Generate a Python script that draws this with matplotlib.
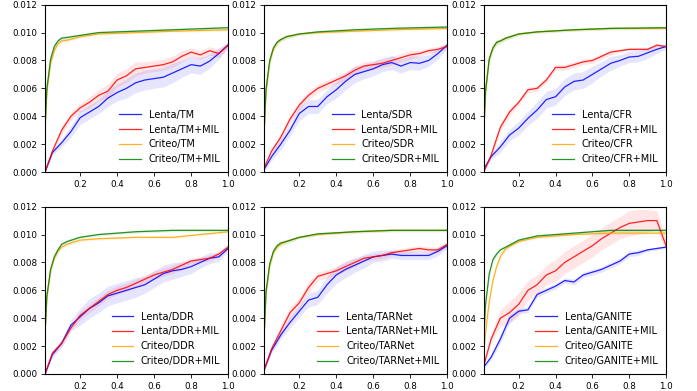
import matplotlib
matplotlib.use("Agg")
import matplotlib.pyplot as plt
import numpy as np

# x grids (fraction of population)
xl = [0.01, 0.05, 0.1, 0.15, 0.2, 0.25, 0.3, 0.35, 0.4, 0.45, 0.5,
      0.55, 0.6, 0.65, 0.7, 0.75, 0.8, 0.85, 0.9, 0.95, 1.0]
xc = [0.01, 0.02, 0.04, 0.06, 0.08, 0.1, 0.13, 0.2, 0.3, 0.5, 0.7, 1.0]

models = ["TM", "SDR", "CFR", "DDR", "TARNet", "GANITE"]

# Lenta curves (x1e-3)
lenta = {
    "TM": [0.0, 1.4, 2.1, 2.9, 3.9, 4.3, 4.7, 5.3, 5.7, 6.0, 6.4,
           6.6, 6.7, 6.8, 7.1, 7.4, 7.7, 7.6, 7.95, 8.5, 9.1],
    "SDR": [0.2, 1.1, 2.0, 3.0, 4.2, 4.7, 4.7, 5.4, 5.9, 6.5, 7.0,
            7.2, 7.4, 7.7, 7.85, 7.6, 7.85, 7.8, 8.0, 8.5, 9.1],
    "CFR": [0.2, 1.1, 1.8, 2.65, 3.15, 3.85, 4.45, 5.2, 5.4, 6.1, 6.5,
            6.6, 7.0, 7.4, 7.8, 8.0, 8.25, 8.3, 8.55, 8.8, 9.0],
    "DDR": [0.0, 1.4, 2.2, 3.5, 4.1, 4.7, 5.1, 5.6, 5.8, 6.0, 6.2,
            6.4, 6.8, 7.2, 7.4, 7.5, 7.7, 8.0, 8.3, 8.4, 9.0],
    "TARNet": [0.3, 1.7, 2.8, 3.7, 4.5, 5.3, 5.5, 6.4, 7.1, 7.5, 7.8,
               8.1, 8.4, 8.5, 8.6, 8.5, 8.5, 8.5, 8.5, 8.8, 9.2],
    "GANITE": [0.5, 1.2, 2.5, 4.0, 4.5, 4.6, 5.7, 6.0, 6.3, 6.7, 6.6,
               7.1, 7.3, 7.5, 7.8, 8.1, 8.6, 8.7, 8.9, 9.0, 9.1],
}
lenta_mil = {
    "TM": [0.0, 1.5, 3.0, 4.0, 4.6, 5.0, 5.5, 5.8, 6.6, 6.9, 7.4,
           7.5, 7.6, 7.7, 7.9, 8.3, 8.6, 8.4, 8.7, 8.5, 9.1],
    "SDR": [0.3, 1.5, 2.5, 3.8, 4.8, 5.5, 6.0, 6.3, 6.6, 6.9, 7.3,
            7.6, 7.7, 7.8, 8.0, 8.2, 8.4, 8.5, 8.7, 8.8, 9.0],
    "CFR": [0.0, 1.2, 3.2, 4.3, 5.0, 5.9, 6.0, 6.6, 7.5, 7.5, 7.7,
            7.9, 8.0, 8.3, 8.6, 8.7, 8.8, 8.8, 8.8, 9.1, 9.0],
    "DDR": [0.0, 1.5, 2.2, 3.3, 4.2, 4.7, 5.2, 5.7, 6.0, 6.2, 6.5,
            6.8, 7.1, 7.3, 7.5, 7.8, 8.1, 8.2, 8.3, 8.6, 9.1],
    "TARNet": [0.3, 1.8, 3.1, 4.4, 5.1, 6.2, 7.0, 7.2, 7.4, 7.7, 8.0,
               8.3, 8.4, 8.5, 8.7, 8.8, 8.9, 9.0, 8.9, 8.9, 9.3],
    "GANITE": [0.6, 2.5, 4.0, 4.4, 5.0, 6.0, 6.4, 7.1, 7.4, 8.0, 8.4,
               8.8, 9.2, 9.7, 10.1, 10.5, 10.8, 10.9, 11.0, 11.0, 9.2],
}
# half-width of the shaded bands (x1e-3)
lenta_band = {
    "TM": [0.0, 0.2, 0.3, 0.4, 0.5, 0.5, 0.5, 0.6, 0.6, 0.7, 0.7,
           0.7, 0.7, 0.7, 0.7, 0.6, 0.6, 0.6, 0.5, 0.4, 0.2],
    "SDR": [0.1, 0.3, 0.4, 0.4, 0.5, 0.5, 0.5, 0.5, 0.6, 0.6, 0.6,
            0.5, 0.5, 0.5, 0.5, 0.5, 0.5, 0.5, 0.4, 0.4, 0.2],
    "CFR": [0.1, 0.2, 0.4, 0.4, 0.5, 0.5, 0.6, 0.6, 0.6, 0.6, 0.6,
            0.6, 0.6, 0.5, 0.5, 0.4, 0.4, 0.4, 0.4, 0.3, 0.2],
    "DDR": [0.1, 0.2, 0.3, 0.4, 0.6, 0.7, 0.7, 0.7, 0.7, 0.7, 0.7,
            0.6, 0.6, 0.6, 0.6, 0.5, 0.5, 0.4, 0.4, 0.3, 0.2],
    "TARNet": [0.1, 0.2, 0.3, 0.4, 0.4, 0.5, 0.5, 0.6, 0.6, 0.6, 0.5,
               0.5, 0.4, 0.4, 0.3, 0.3, 0.3, 0.3, 0.3, 0.3, 0.2],
    "GANITE": [0.1, 0.2, 0.3, 0.3, 0.2, 0.2, 0.2, 0.2, 0.2, 0.2, 0.2,
               0.2, 0.2, 0.2, 0.2, 0.2, 0.2, 0.2, 0.1, 0.1, 0.1],
}
lenta_mil_band = {
    "TM": [0.0, 0.2, 0.3, 0.3, 0.3, 0.4, 0.4, 0.5, 0.5, 0.5, 0.5,
           0.4, 0.4, 0.4, 0.4, 0.4, 0.3, 0.3, 0.3, 0.3, 0.2],
    "SDR": [0.1, 0.2, 0.3, 0.3, 0.3, 0.3, 0.3, 0.3, 0.3, 0.3, 0.3,
            0.3, 0.3, 0.3, 0.3, 0.3, 0.3, 0.2, 0.2, 0.2, 0.2],
    "CFR": [0.0, 0.2, 0.3, 0.3, 0.2, 0.2, 0.2, 0.2, 0.2, 0.2, 0.2,
            0.2, 0.2, 0.2, 0.2, 0.1, 0.1, 0.1, 0.1, 0.1, 0.1],
    "DDR": [0.0, 0.2, 0.2, 0.2, 0.3, 0.3, 0.3, 0.3, 0.3, 0.3, 0.3,
            0.3, 0.3, 0.3, 0.3, 0.3, 0.2, 0.2, 0.2, 0.2, 0.2],
    "TARNet": [0.1, 0.2, 0.4, 0.4, 0.4, 0.4, 0.3, 0.3, 0.3, 0.3, 0.3,
               0.2, 0.2, 0.2, 0.2, 0.2, 0.2, 0.2, 0.2, 0.2, 0.2],
    "GANITE": [0.1, 0.3, 0.6, 0.8, 0.8, 0.7, 0.7, 0.7, 0.8, 0.8, 0.8,
               0.8, 0.8, 0.8, 0.8, 0.8, 0.9, 0.9, 0.8, 0.7, 0.4],
}

# Criteo curves (x1e-3)
criteo = {
    "TM": [3.0, 5.8, 7.8, 8.7, 9.2, 9.4, 9.45, 9.7, 9.9, 10.0, 10.1, 10.2],
    "SDR": [3.0, 5.8, 7.9, 8.8, 9.3, 9.5, 9.7, 9.9, 10.0, 10.1, 10.2, 10.3],
    "CFR": [2.8, 5.8, 8.1, 8.9, 9.3, 9.4, 9.6, 9.9, 10.05, 10.2, 10.3, 10.3],
    "DDR": [3.0, 5.5, 7.4, 8.3, 8.8, 9.1, 9.3, 9.6, 9.7, 9.8, 9.8, 10.2],
    "TARNet": [2.8, 5.8, 7.8, 8.7, 9.1, 9.3, 9.5, 9.8, 10.0, 10.2, 10.3, 10.3],
    "GANITE": [1.5, 3.0, 5.2, 6.7, 7.7, 8.4, 9.0, 9.5, 9.8, 10.0, 10.1, 10.1],
}
criteo_mil = {
    "TM": [3.1, 6.0, 8.1, 9.0, 9.4, 9.6, 9.65, 9.8, 10.0, 10.1, 10.2, 10.35],
    "SDR": [2.9, 5.9, 8.0, 8.9, 9.3, 9.5, 9.7, 9.9, 10.05, 10.2, 10.3, 10.4],
    "CFR": [2.8, 5.8, 8.1, 8.9, 9.3, 9.4, 9.6, 9.9, 10.05, 10.2, 10.3, 10.35],
    "DDR": [2.9, 5.6, 7.5, 8.4, 8.9, 9.3, 9.5, 9.8, 10.0, 10.2, 10.3, 10.3],
    "TARNet": [2.8, 5.9, 7.9, 8.8, 9.2, 9.4, 9.5, 9.8, 10.05, 10.2, 10.3, 10.3],
    "GANITE": [2.5, 5.0, 7.2, 8.2, 8.6, 8.9, 9.1, 9.6, 9.9, 10.1, 10.3, 10.3],
}
criteo_band = [0.3, 0.3, 0.3, 0.2, 0.2, 0.15, 0.15, 0.1, 0.1, 0.1, 0.1, 0.1]

positions = [
    [0.0646, 0.560, 0.2626, 0.428],
    [0.379, 0.560, 0.2626, 0.428],
    [0.694, 0.560, 0.2616, 0.428],
    [0.0646, 0.0435, 0.2626, 0.428],
    [0.379, 0.0435, 0.2626, 0.428],
    [0.694, 0.0435, 0.2616, 0.428],
]

fig = plt.figure(figsize=(6.97, 3.91), dpi=100)

def draw(ax, x, y, band, color, label):
    y = np.array(y) / 1000.0
    b = np.array(band) / 1000.0
    ax.fill_between(x, y - b, y + b, color=color, alpha=0.1, lw=0)
    ax.plot(x, y, color=color, lw=0.9, alpha=0.85, label=label)

for i, m in enumerate(models):
    ax = fig.add_axes(positions[i])
    draw(ax, xl, lenta[m], lenta_band[m], "blue", "Lenta/" + m)
    draw(ax, xl, lenta_mil[m], lenta_mil_band[m], "red", "Lenta/" + m + "+MIL")
    draw(ax, xc, criteo[m], criteo_band, "orange", "Criteo/" + m)
    draw(ax, xc, criteo_mil[m], criteo_band, "green", "Criteo/" + m + "+MIL")
    ax.set_xlim(0.01, 1.0)
    ax.set_ylim(0, 0.012)
    ax.set_xticks([0.2, 0.4, 0.6, 0.8, 1.0])
    ax.set_xticklabels(["0.2", "0.4", "0.6", "0.8", "1.0"])
    ax.set_yticks([0, 0.002, 0.004, 0.006, 0.008, 0.010, 0.012])
    ax.set_yticklabels(["0.000", "0.002", "0.004", "0.006", "0.008", "0.010", "0.012"])
    ax.tick_params(labelsize=6.3, length=3, width=0.6, pad=2.5)
    for s in ax.spines.values():
        s.set_linewidth(0.8)
    ax.legend(loc="lower right", frameon=False, fontsize=7,
              handlelength=2.2, labelspacing=0.5, borderaxespad=0.4)

fig.savefig("out.png", dpi=100)
